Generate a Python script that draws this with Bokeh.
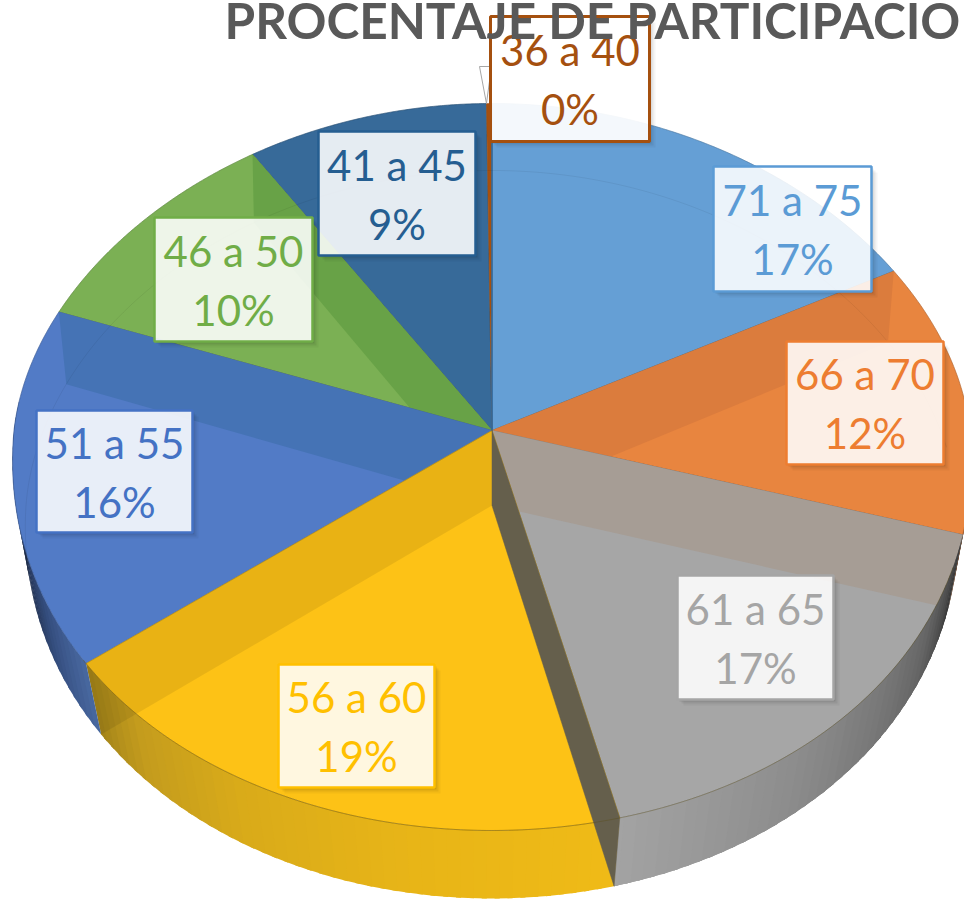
import numpy as np
from bokeh.plotting import figure
from bokeh.models import Range1d
from bokeh.core.properties import value
from bokeh.embed import file_html
from bokeh.resources import INLINE

# ---- data (clockwise from 12 o'clock) ----
categories = ["71 a 75", "66 a 70", "61 a 65", "56 a 60", "51 a 55", "46 a 50", "41 a 45", "36 a 40"]
values = [16.9, 12.3, 16.8, 19.1, 15.8, 10.1, 8.8, 0.2]
title_text = "PROCENTAJE DE PARTICIPACIO"

# ---- styles ----
text_colors = ["#5B9BD5", "#ED7D31", "#A5A5A5", "#FFC000", "#4472C4", "#70AD47", "#255E91", "#A5500F"]
face_colors = ["#659FD5", "#E8853F", "#A6A6A6", "#FDC216", "#527BC6", "#7BB054", "#376A99", "#A5500F"]
band_colors = [None, "#DB7C3D", "#A69D95", "#000000", "#4573B5", "#68A247", None, None]
band_alphas = [0, 1, 1, 0.08, 1, 1, 0, 0]
box_alphas = [0.87] * 7 + [0.93]
# wall colour ramps: (angle in degrees, colour)
wall_ramps = {
    0: [(0, "#4d86bd"), (90, "#4d86bd")],
    1: [(61, "#5a3015"), (106, "#5a3015")],
    2: [(104, "#2c2c2c"), (110, "#4a4a4a"), (118, "#666666"), (127, "#767676"), (142, "#8c8c8c"), (166, "#a4a4a4")],
    3: [(166, "#f0bb17"), (190, "#e8b518"), (210, "#d9ab1a"), (225, "#c49c1e"), (230, "#b3901c"), (234, "#a4851a")],
    4: [(234, "#4a6aa2"), (245, "#364f80"), (258, "#1d2b46"), (270, "#1d2b46")],
}
# label box layout in page pixels: left, right, top, bottom
boxes = [(713, 871, 166, 291), (786, 943, 341, 464), (677, 833, 575, 699), (278, 434, 664, 787),
         (36, 192, 410, 532), (154, 312, 217, 341), (318, 475, 131, 255), (490, 649, 16, 141)]

W, H = 964, 900
p = figure(width=W, height=H, x_range=Range1d(0, W), y_range=Range1d(H, 0),
           x_axis_type=None, y_axis_type=None, toolbar_location=None, output_backend="svg",
           min_border=0, outline_line_color=None, background_fill_color="white")
p.grid.visible = False

# ---- pie projection (perspective-flattened disc) ----
CX, CY_TOP, CY_BOT = 491.5, 430.0, 505.0


def rim(tdeg, level):
    t = np.radians(np.asarray(tdeg, dtype=float))
    c, s = np.cos(t), np.sin(t)
    if level == "top":
        rx, k, back, front, cy = 478.0, 0.077, 327.0, 400.0, CY_TOP
    else:
        rx, k, back, front, cy = 466.0, 0.055, 335.0, 393.0, CY_BOT
    x = CX + rx * (1 - k * c) * s
    y = cy - np.where(c >= 0, back, front) * c
    return x, y


edges = np.cumsum([0] + values) / sum(values) * 360.0


def ramp(idx, t):
    pts = wall_ramps[idx]
    a = [q[0] for q in pts]
    rgb = [tuple(int(q[1][i:i + 2], 16) for i in (1, 3, 5)) for q in pts]
    return "#%02x%02x%02x" % tuple(int(np.interp(t, a, [c[j] for c in rgb])) for j in range(3))


def draw_wall(indices):
    # outer walls (front half only), as overlapping thin quads to avoid seams
    wx, wy, wc = [], [], []
    for i in indices:
        a, b = max(edges[i], 85.0), min(edges[i + 1], 275.0)
        ts = np.arange(a, b, 1.5).tolist() + [b]
        for t0, t1 in zip(ts[:-1], ts[1:]):
            x0, y0 = rim([t0, min(t1 + 0.6, b)], "top")
            x1, y1 = rim([min(t1 + 0.6, b), t0], "bot")
            wx.append(list(x0) + list(x1))
            wy.append(list(y0) + list(y1))
            wc.append(ramp(i, (t0 + t1) / 2))
    p.patches(wx, wy, fill_color=wc, line_alpha=0)


draw_wall(list(wall_ramps))


def face(i):
    ts = np.linspace(edges[i], edges[i + 1], 120)
    x, y = rim(ts, "top")
    return [CX] + list(x), [CY_TOP] + list(y)


def band(i, which):
    # radial wall of slice i at its start (0) or end (1) boundary
    t = edges[i + which]
    xt, yt = rim([t], "top")
    xb, yb = rim([t], "bot")
    return [CX, xt[0], xb[0], CX], [CY_TOP, yt[0], yb[0], CY_BOT]


# painter's order: back-right, then back-left, then the front
for i in [0, 1, 2, 6, 5, 4, 3]:
    fx, fy = face(i)
    p.patch(fx, fy, fill_color=face_colors[i], line_color=face_colors[i], line_width=0.6)
    p.patch(fx, fy, fill_alpha=0, line_color="#000000", line_alpha=0.2, line_width=0.8)
    if band_colors[i]:
        # right-hand slices show the wall at their start boundary, left-hand ones at their end
        which = 0 if i in (1, 2) else 1
        bx, by = band(i, which)
        p.patch(bx, by, fill_color=band_colors[i], fill_alpha=band_alphas[i], line_alpha=0)
    if i == 2:
        # the grey slice's outer wall stays dark where its radial wall would cross it
        draw_wall([2])

# dark wall between the gold and grey slices
bx, by = band(3, 0)
p.patch(bx, by, fill_color="#655F4C", line_color="#655F4C", line_width=0.5)

# sliver of the near-zero slice and its neighbour edge
fx, fy = face(7)
p.patch(fx, fy, fill_color=face_colors[7], line_color=face_colors[7], line_width=0.5)
xb0, yb0 = rim([0.0], "top")
p.line([CX, xb0[0]], [CY_TOP, yb0[0]], line_color="#2A6CA8", line_width=1.5)

# faint far rim of the bottom disc, seen through the translucent top
ts = np.linspace(-100, 80, 200)
xr, yr = rim(np.mod(ts, 360), "bot")
p.line(xr, yr, line_color="#000000", line_alpha=0.06, line_width=1)

# front top-rim edge
ts = np.linspace(110, 235, 200)
xr, yr = rim(ts, "top")
p.line(xr, yr, line_color="#5a4a10", line_alpha=0.35, line_width=1)

# callout pointer of the last label
L, R, T, B = boxes[7]
xt, yt = rim([edges[7]], "top")
p.patch([L - 11, L + 1, xt[0]], [T + 50, T + 50, yt[0]], fill_color="white", line_color="#A6A6A6", line_width=1)

# label boxes: shadow, translucent fill, border, two lines of text
for offs, al in ((2, 0.09), (4, 0.06), (6, 0.04)):
    sx, sy = [], []
    for (L, R, T, B) in boxes:
        sx.append([R, R + offs, R + offs, L + offs, L + offs, R])
        sy.append([T + offs, T + offs, B + offs, B + offs, B, B])
    p.patches(sx, sy, fill_color="#000000", fill_alpha=al, line_alpha=0)

lefts, rights, tops, bottoms = map(list, zip(*boxes))
widths = [2.5] * 7 + [3]
p.quad(left=lefts, right=rights, top=tops, bottom=bottoms, fill_color="white", fill_alpha=box_alphas,
       line_color=text_colors, line_width=widths)

mid_x = [(a + b) / 2 for a, b in zip(lefts, rights)]
mid_y = [(a + b) / 2 for a, b in zip(tops, bottoms)]
pct = [f"{round(v)}%" for v in values]
p.text(mid_x, [m - 29 for m in mid_y], text=categories, text_color=text_colors, text_align="center",
       text_baseline="middle", text_font=value("Lato"), text_font_size="42px")
p.text(mid_x, [m + 30 for m in mid_y], text=pct, text_color=text_colors, text_align="center",
       text_baseline="middle", text_font=value("Lato"), text_font_size="42px")

p.text([224], [19], text=[title_text], text_color="#595959", text_align="left", text_baseline="middle",
       text_font=value("Lato"), text_font_style="bold", text_font_size="49.5px")

open("out.html", "w").write(file_html(p, INLINE))
